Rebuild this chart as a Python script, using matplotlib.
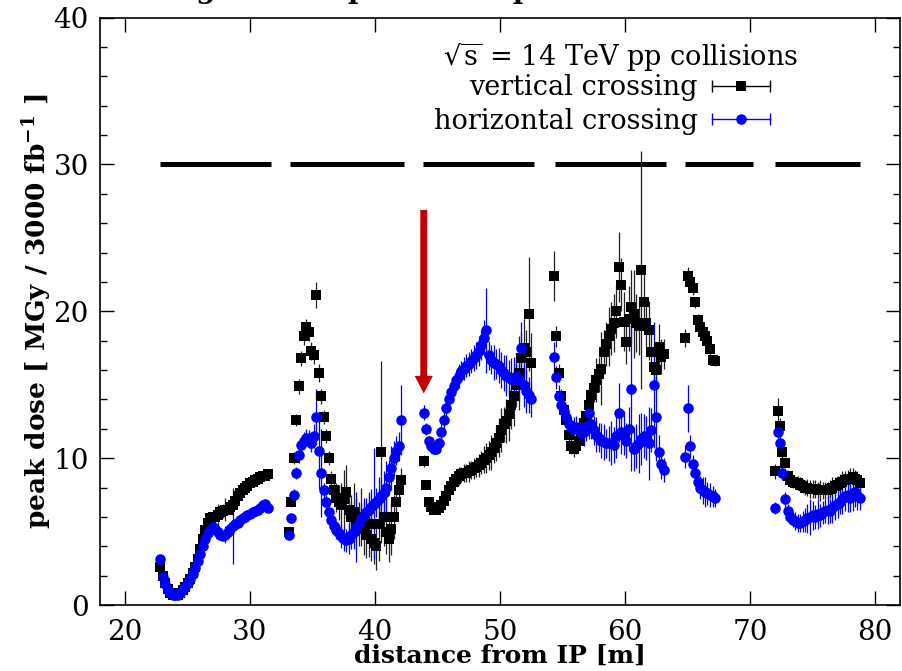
import numpy as np
import matplotlib.pyplot as plt
from matplotlib.lines import Line2D
from matplotlib.ticker import MultipleLocator
from matplotlib.legend_handler import HandlerLine2D

plt.rcParams['font.family'] = 'DejaVu Serif'
plt.rcParams['mathtext.fontset'] = 'dejavuserif'

# ---- peak dose along the line, one block per magnet (x range, values, errors)
seg1_x = (22.8, 31.4)
seg1_vert = [2.6, 2.0, 1.5, 1.1, 0.8, 0.7, 0.65, 0.7, 0.8, 1.0,
             1.2, 1.5, 1.8, 2.2, 2.6, 3.1, 3.8, 4.5, 5.1, 5.6,
             5.9, 6.0, 6.0, 6.1, 6.3, 6.4, 6.5, 6.5, 6.7, 6.8,
             7.1, 7.4, 7.6, 7.8, 8.0, 8.1, 8.3, 8.4, 8.5, 8.6,
             8.7, 8.8, 8.8, 8.9]
seg1_vert_err = [0.2, 0.2, 0.2, 0.1, 0.1, 0.1, 0.1, 0.1, 0.1, 0.1,
                 0.1, 0.1, 0.1, 0.2, 0.2, 0.2, 0.2, 0.2, 0.3, 0.3,
                 0.3, 0.3, 0.5, 0.8, 0.3, 0.5, 0.8, 0.3, 0.3, 0.3,
                 0.3, 0.3, 0.3, 0.3, 0.3, 0.3, 0.3, 0.3, 0.3, 0.3,
                 0.3, 0.3, 0.3, 0.3]
seg1_horz = [3.1, 1.9, 1.4, 1.0, 0.8, 0.7, 0.65, 0.7, 0.8, 1.0,
             1.2, 1.5, 1.8, 2.1, 2.5, 3.0, 3.5, 4.0, 4.5, 4.9,
             5.1, 5.3, 5.2, 5.0, 4.8, 4.7, 4.8, 5.0, 5.2, 5.4,
             5.5, 5.6, 5.8, 5.9, 6.0, 6.1, 6.2, 6.3, 6.4, 6.5,
             6.6, 6.8, 6.9, 6.6]
seg1_horz_err = [0.2, 0.2, 0.1, 0.1, 0.1, 0.1, 0.1, 0.1, 0.1, 0.1,
                 0.1, 0.1, 0.1, 0.1, 0.2, 0.2, 0.2, 0.2, 0.2, 0.3,
                 0.3, 0.3, 0.3, 0.3, 0.3, 0.3, 0.6, 0.3, 0.3, 2.6,
                 0.3, 0.3, 0.3, 0.3, 0.3, 0.3, 0.3, 0.3, 0.3, 0.3,
                 0.3, 0.3, 0.3, 0.3]

seg2_x = (33.1, 42.1)
seg2_vert = [5.0, 7.0, 10.0, 12.6, 14.9, 16.8, 18.3, 18.9, 18.6, 17.3,
             17.0, 21.1, 15.8, 14.2, 12.8, 11.5, 10.0, 8.6, 7.8, 7.3,
             7.0, 6.8, 7.2, 7.7, 6.5, 6.0, 6.3, 5.8, 5.5, 6.0,
             5.2, 4.8, 5.5, 4.5, 4.2, 4.0, 5.5, 10.4, 6.0, 5.0,
             4.5, 5.2, 6.0, 7.0, 7.8, 8.5]
seg2_vert_err = [0.3, 0.3, 0.4, 0.4, 0.5, 0.5, 0.6, 0.6, 0.6, 0.6,
                 0.6, 0.9, 0.6, 0.5, 0.5, 0.5, 0.5, 0.5, 0.8, 1.0,
                 1.2, 1.5, 2.0, 1.8, 1.5, 1.5, 2.0, 1.5, 1.5, 2.0,
                 1.8, 1.6, 2.2, 1.5, 1.4, 1.6, 2.5, 6.2, 2.0, 1.5,
                 1.6, 1.8, 1.5, 1.2, 1.0, 0.8]
seg2_horz = [4.8, 5.9, 7.5, 9.0, 10.2, 10.9, 11.2, 11.4, 11.3, 11.0,
             11.5, 12.8, 10.5, 9.0, 7.8, 7.0, 6.3, 5.8, 5.4, 5.1,
             4.9, 4.7, 4.5, 4.4, 4.5, 4.8, 5.0, 5.3, 5.6, 5.9,
             6.1, 6.3, 6.5, 6.7, 6.9, 7.0, 7.2, 7.4, 7.6, 8.0,
             8.7, 9.3, 10.0, 10.5, 10.8, 12.6]
seg2_horz_err = [0.3, 0.3, 0.4, 0.4, 0.5, 0.5, 0.6, 0.6, 0.6, 0.6,
                 0.8, 1.9, 2.6, 3.0, 0.5, 0.5, 0.5, 0.5, 0.6, 0.6,
                 0.6, 0.8, 0.8, 0.8, 1.0, 1.0, 1.2, 2.4, 1.0, 1.0,
                 1.2, 1.0, 1.0, 1.2, 3.8, 1.0, 1.5, 1.2, 1.5, 1.8,
                 1.2, 1.5, 1.2, 1.0, 1.0, 2.4]

seg3_x = (43.9, 52.5)
seg3_vert = [9.8, 8.2, 7.0, 6.7, 6.5, 6.5, 6.6, 6.8, 7.1, 7.4,
             7.8, 8.1, 8.4, 8.6, 8.8, 8.9, 9.0, 9.0, 9.1, 9.2,
             9.3, 9.4, 9.5, 9.7, 9.9, 10.0, 10.2, 10.4, 10.7, 11.0,
             11.4, 11.9, 12.3, 12.5, 13.0, 13.6, 14.2, 15.0, 15.8, 16.8,
             17.5, 17.2, 19.8, 16.5]
seg3_vert_err = [0.4, 0.3, 0.3, 0.3, 0.3, 0.3, 0.3, 0.3, 0.3, 0.4,
                 0.4, 0.4, 0.5, 0.5, 0.6, 0.5, 0.6, 0.6, 0.7, 0.6,
                 0.7, 0.7, 0.8, 0.8, 0.9, 1.0, 1.0, 1.2, 1.0, 1.2,
                 1.3, 1.5, 1.2, 1.5, 1.8, 1.6, 2.0, 1.5, 2.5, 1.8,
                 2.0, 1.5, 3.9, 2.0]
seg3_horz = [13.1, 12.0, 11.2, 10.8, 10.6, 10.6, 11.0, 11.8, 12.6, 13.4,
             14.0, 14.5, 14.9, 15.3, 15.6, 15.9, 16.1, 16.3, 16.4, 16.6,
             16.8, 17.0, 17.3, 17.7, 18.2, 18.7, 17.0, 16.7, 16.5, 16.4,
             16.3, 16.0, 15.8, 15.6, 15.5, 15.4, 15.4, 15.6, 15.3, 17.5,
             15.0, 14.6, 14.3, 14.0]
seg3_horz_err = [0.5, 0.4, 0.3, 0.3, 0.3, 0.3, 0.4, 0.5, 0.8, 0.6,
                 0.6, 0.6, 0.7, 0.7, 0.8, 0.7, 0.8, 0.8, 0.8, 0.8,
                 0.9, 0.9, 1.0, 1.0, 1.2, 2.9, 1.0, 1.0, 1.2, 1.0,
                 1.2, 1.2, 1.2, 1.4, 1.2, 1.4, 1.5, 1.5, 1.4, 1.8,
                 1.5, 1.5, 1.2, 1.2]

seg4_x = (54.3, 63.1)
seg4_vert = [22.4, 18.3, 15.8, 14.2, 13.3, 12.6, 11.6, 10.8, 10.6, 10.8,
             11.2, 11.8, 12.4, 12.9, 13.6, 14.3, 14.8, 15.3, 15.7, 16.1,
             17.2, 17.8, 18.3, 18.8, 19.2, 20.0, 23.0, 21.8, 19.3, 17.9,
             19.5, 20.3, 19.8, 19.2, 19.0, 22.8, 20.6, 19.2, 18.7, 17.2,
             16.2, 16.0, 17.6, 16.9, 17.1]
seg4_vert_err = [1.7, 0.7, 0.6, 0.5, 0.5, 0.5, 0.5, 0.5, 0.5, 0.5,
                 0.6, 0.6, 0.7, 0.8, 1.0, 1.2, 1.0, 1.5, 1.2, 2.5,
                 1.5, 1.5, 2.0, 1.8, 2.0, 1.8, 2.4, 1.8, 2.0, 1.5,
                 2.2, 2.5, 3.0, 2.0, 2.0, 8.1, 2.0, 1.8, 2.0, 1.5,
                 1.5, 1.2, 1.5, 1.2, 1.0]
seg4_horz = [16.9, 15.5, 14.2, 13.6, 13.2, 12.8, 12.3, 12.1, 12.0, 12.1,
             11.9, 11.7, 11.8, 12.2, 13.1, 12.3, 11.9, 11.6, 11.4, 11.2,
             11.1, 11.0, 11.0, 11.0, 10.9, 11.5, 13.1, 11.8, 11.7, 11.2,
             12.0, 14.7, 10.6, 10.8, 11.0, 11.3, 11.5, 11.4, 11.0, 11.9,
             15.0, 12.8, 10.4, 9.6, 9.2]
seg4_horz_err = [1.0, 0.8, 0.8, 0.6, 0.6, 0.6, 0.7, 0.7, 0.8, 0.8,
                 0.8, 0.8, 1.0, 1.0, 1.8, 1.0, 1.0, 1.2, 1.0, 1.2,
                 1.2, 1.0, 1.2, 1.5, 1.2, 1.5, 2.0, 1.5, 1.5, 1.2,
                 1.5, 5.6, 1.5, 1.5, 2.0, 1.8, 1.5, 1.5, 2.5, 1.5,
                 4.3, 3.0, 1.2, 1.0, 0.8]

seg5_x = (64.8, 67.2)
seg5_vert = [18.2, 22.4, 22.0, 21.6, 20.6, 19.4, 18.9, 18.6, 18.3, 18.0,
             17.4, 16.7, 16.6]
seg5_vert_err = [0.6, 0.6, 0.5, 0.5, 0.4, 0.4, 0.4, 0.4, 0.4, 0.4,
                 0.4, 0.3, 0.3]
seg5_horz = [10.1, 13.4, 10.8, 9.6, 9.0, 8.4, 8.0, 7.8, 7.7, 7.6,
             7.5, 7.4, 7.3]
seg5_horz_err = [0.8, 1.6, 0.8, 0.6, 0.6, 0.8, 0.8, 0.9, 1.0, 0.8,
                 0.8, 0.7, 0.6]

seg6_x = (72.0, 78.8)
seg6_vert = [9.1, 13.2, 12.2, 10.4, 9.7, 8.8, 8.5, 8.4, 8.3, 8.3,
             8.2, 8.1, 8.0, 8.0, 7.9, 7.9, 7.9, 7.8, 7.8, 7.8,
             7.8, 7.8, 7.9, 8.0, 8.1, 8.2, 8.3, 8.4, 8.5, 8.6,
             8.6, 8.7, 8.6, 8.5, 8.3]
seg6_vert_err = [0.5, 0.9, 0.5, 0.4, 0.4, 0.4, 0.4, 0.4, 0.4, 0.5,
                 0.5, 0.5, 0.5, 0.6, 0.6, 0.6, 0.6, 0.6, 0.7, 0.6,
                 0.6, 0.6, 0.6, 0.7, 0.6, 0.6, 0.6, 0.7, 0.6, 0.6,
                 0.7, 0.6, 0.6, 0.6, 0.5]
seg6_horz = [6.6, 11.8, 11.0, 9.0, 7.2, 6.4, 6.0, 5.8, 5.7, 5.6,
             5.6, 5.7, 5.8, 5.9, 6.0, 6.1, 6.0, 6.2, 6.1, 6.3,
             6.4, 6.5, 6.4, 6.6, 6.8, 6.9, 7.0, 7.2, 7.4, 7.5,
             7.3, 7.6, 7.7, 7.5, 7.3]
seg6_horz_err = [0.4, 0.6, 0.5, 0.5, 0.5, 0.5, 0.5, 0.5, 0.6, 0.6,
                 0.6, 0.7, 0.8, 1.0, 1.2, 1.0, 0.8, 1.0, 0.8, 0.8,
                 0.8, 1.0, 0.8, 1.0, 1.0, 1.0, 0.8, 1.0, 1.0, 1.2,
                 1.0, 1.2, 1.0, 1.0, 0.8]

# magnet extents drawn as bars at the top
magnet_start = [22.8, 33.2, 43.8, 54.4, 64.8, 72.0]
magnet_end = [31.7, 42.3, 52.7, 63.3, 70.2, 78.8]
magnet_level = 30

# arrow marking the spot of interest
arrow_x = 43.9
arrow_from = 26.9
arrow_to = 14.4

segments = [
    (seg1_x, seg1_vert, seg1_vert_err, seg1_horz, seg1_horz_err),
    (seg2_x, seg2_vert, seg2_vert_err, seg2_horz, seg2_horz_err),
    (seg3_x, seg3_vert, seg3_vert_err, seg3_horz, seg3_horz_err),
    (seg4_x, seg4_vert, seg4_vert_err, seg4_horz, seg4_horz_err),
    (seg5_x, seg5_vert, seg5_vert_err, seg5_horz, seg5_horz_err),
    (seg6_x, seg6_vert, seg6_vert_err, seg6_horz, seg6_horz_err),
]

xs, yv, ev, yh, eh = [], [], [], [], []
for (x0, x1), v, v_err, h, h_err in segments:
    xs.append(np.linspace(x0, x1, len(v)))
    yv += v
    ev += v_err
    yh += h
    eh += h_err
xs = np.concatenate(xs)

fig = plt.figure(figsize=(9.02, 6.71), dpi=100)
ax = fig.add_axes([100 / 902, 1 - 605 / 671, 800 / 902, 587.5 / 671])

ax.hlines([magnet_level] * len(magnet_start), magnet_start, magnet_end,
          colors='black', lw=3.6, capstyle='butt')

ax.errorbar(xs, yv, yerr=ev, fmt='s', ms=7.6, mew=0, color='black',
            ecolor='#222222', elinewidth=0.9, capsize=2.6, capthick=0.9)
ax.errorbar(xs, yh, yerr=eh, fmt='o', ms=7.6, mew=0, color='#0000ff',
            ecolor='#0000ff', elinewidth=0.9, capsize=2.6, capthick=0.9)

ax.arrow(arrow_x, arrow_from, 0, arrow_to - arrow_from, width=0.55,
         head_width=1.45, head_length=1.2, length_includes_head=True,
         color='#c40000', lw=0, zorder=5)

ax.set_xlim(18, 82)
ax.set_ylim(0, 40)
ax.set_xticks(range(20, 81, 10))
ax.set_yticks(range(0, 41, 10))
ax.yaxis.set_minor_locator(MultipleLocator(2))
ax.tick_params(which='both', direction='in', top=True, right=True,
               width=1, labelsize=20)
ax.tick_params(which='major', length=10)
ax.tick_params(which='minor', length=5)
ax.tick_params(axis='x', pad=10)
ax.tick_params(axis='y', pad=8)
for sp in ax.spines.values():
    sp.set_linewidth(1.2)

ax.set_xlabel('distance from IP [m]', fontsize=18, fontweight='bold')
ax.xaxis.set_label_coords(0.5, -0.066)
ax.set_ylabel(r'peak dose [ MGy / 3000 fb$^{\mathbf{-1}}$ ]',
              fontsize=19, fontweight='bold')
ax.yaxis.set_label_coords(-0.058, 0.5)

# key: header line plus the two samples drawn gnuplot-style
ax.text(0.8725, 0.933, r'$\sqrt{\mathrm{s}}$ = 14 TeV pp collisions',
        ha='right', va='center', fontsize=19.5, transform=ax.transAxes)
v_bar = Line2D([], [], color='black', lw=1, marker='|', ms=8, mew=1)
v_mark = Line2D([], [], color='black', ls='none', marker='s', ms=7.6, mew=0)
h_bar = Line2D([], [], color='#0000ff', lw=1, marker='|', ms=8, mew=1)
h_mark = Line2D([], [], color='#0000ff', ls='none', marker='o', ms=7.6, mew=0)
ax.legend([(v_bar, v_mark), (h_bar, h_mark)],
          ['vertical crossing', 'horizontal crossing'],
          handler_map={v_bar: HandlerLine2D(numpoints=2, marker_pad=0),
                       h_bar: HandlerLine2D(numpoints=2, marker_pad=0)},
          loc='upper right', bbox_to_anchor=(0.8375, 0.903),
          frameon=False, borderpad=0, borderaxespad=0, markerfirst=False,
          handlelength=2.15, handletextpad=0.52, labelspacing=0.23,
          fontsize=19.5)

fig.text(138 / 902, 1 + 2 / 671, 'Longitudinal peak dose profile',
         fontsize=20, fontweight='bold', va='baseline', ha='left')

fig.savefig('out.png', dpi=100)
